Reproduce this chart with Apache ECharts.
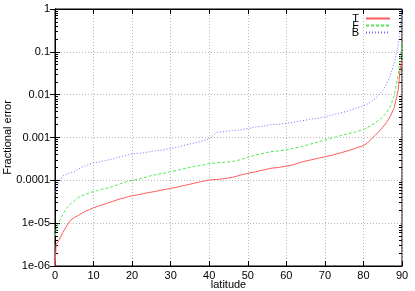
<!DOCTYPE html>
<html><head><meta charset="utf-8">
<script src="https://cdn.jsdelivr.net/npm/echarts@6/dist/echarts.min.js"></script>
<style>html,body{margin:0;padding:0;background:#fff}#c{width:415px;height:291px}</style>
</head><body><div id="c"></div>
<script>
var latitudes = [0,0.3,1,2,3,4,5,6,7,8,9,10,11,12,13,14,15,16,17,18,19,20,22,24,26,28,30,32,34,36,38,40,42,44,46,48,50,52,54,56,58,60,62,64,66,68,70,72,74,76,78,80,81,82,83,84,85,86,87,88,89,89.5,90];
var seriesT = [1e-6,3.2e-6,4.0e-6,6.0e-6,8.5e-6,1.17e-5,1.35e-5,1.51e-5,1.70e-5,1.91e-5,2.09e-5,2.29e-5,2.45e-5,2.63e-5,2.82e-5,3.02e-5,3.24e-5,3.47e-5,3.72e-5,3.89e-5,4.17e-5,4.37e-5,4.68e-5,5.13e-5,5.50e-5,6.03e-5,6.46e-5,7.08e-5,7.76e-5,8.51e-5,9.33e-5,1.02e-4,1.05e-4,1.10e-4,1.17e-4,1.32e-4,1.45e-4,1.58e-4,1.74e-4,1.91e-4,2.0e-4,2.14e-4,2.34e-4,2.69e-4,2.95e-4,3.24e-4,3.55e-4,3.89e-4,4.37e-4,4.90e-4,5.62e-4,6.46e-4,7.41e-4,9.12e-4,1.12e-3,1.38e-3,1.74e-3,2.24e-3,3.16e-3,5.01e-3,1.26e-2,3.8e-2,6.3e-2];
var seriesF = [5.0e-6,7.1e-6,1.05e-5,1.58e-5,2.24e-5,2.82e-5,3.31e-5,3.98e-5,4.37e-5,4.79e-5,5.13e-5,5.50e-5,5.75e-5,6.17e-5,6.46e-5,6.76e-5,7.24e-5,7.76e-5,8.32e-5,8.91e-5,9.55e-5,1.0e-4,1.07e-4,1.23e-4,1.35e-4,1.45e-4,1.58e-4,1.74e-4,1.91e-4,2.09e-4,2.24e-4,2.45e-4,2.57e-4,2.63e-4,2.75e-4,3.02e-4,3.47e-4,3.89e-4,4.27e-4,4.68e-4,4.90e-4,5.13e-4,5.62e-4,6.17e-4,6.92e-4,7.76e-4,8.71e-4,9.77e-4,1.10e-3,1.23e-3,1.35e-3,1.55e-3,1.70e-3,1.91e-3,2.19e-3,2.51e-3,3.02e-3,3.80e-3,5.37e-3,9.55e-3,2.82e-2,6.3e-2,0.16];
var seriesB = [4.5e-5,6.3e-5,8.9e-5,1.26e-4,1.38e-4,1.51e-4,1.58e-4,1.82e-4,2.04e-4,2.19e-4,2.40e-4,2.57e-4,2.63e-4,2.75e-4,2.88e-4,3.02e-4,3.16e-4,3.39e-4,3.55e-4,3.80e-4,3.98e-4,4.17e-4,4.27e-4,4.57e-4,4.90e-4,5.13e-4,5.50e-4,6.03e-4,6.76e-4,7.41e-4,8.13e-4,9.33e-4,1.32e-3,1.38e-3,1.45e-3,1.51e-3,1.62e-3,1.74e-3,1.86e-3,2.0e-3,2.04e-3,2.14e-3,2.29e-3,2.45e-3,2.63e-3,2.82e-3,3.02e-3,3.39e-3,3.72e-3,4.17e-3,4.79e-3,5.50e-3,6.03e-3,6.92e-3,8.13e-3,9.77e-3,1.26e-2,1.78e-2,2.82e-2,5.62e-2,0.141,0.32,1.0];
var seriesNames = ['T','F','B'];
var yTickLabels = ['1e-06','1e-05','0.0001','0.001','0.01','0.1','1'];

function pairs(vals){ return latitudes.map(function(x,i){ return [x, vals[i]]; }); }
function fmtY(v){
  var idx = Math.round(Math.log10(v)) + 6;
  return yTickLabels[idx] !== undefined ? yTickLabels[idx] : '';
}
// minor tick positions (2..9 within each decade)
var minorTicks = [];
for (var d = -6; d < 0; d++) { for (var m = 2; m <= 9; m++) { minorTicks.push(m * Math.pow(10, d)); } }

var font = 'Liberation Sans, Arial, sans-serif';
var chart = echarts.init(document.getElementById('c'), null, {renderer:'canvas'});
var split = {show:true, lineStyle:{color:'#b8b8b8', type:[1,2], width:1}};
function minorAxis(pos){
  return {
    type:'log', logBase:10, min:1e-6, max:1, position:pos,
    axisLine:{show:false},
    axisTick:{show:true, inside:true, length:3, customValues:minorTicks, lineStyle:{color:'#000'}},
    axisLabel:{show:false}, splitLine:{show:false}
  };
}
chart.setOption({
  animation:false,
  textStyle:{fontFamily:font},
  grid:{left:55, right:13, top:9, bottom:25, show:true, borderColor:'#000', borderWidth:1, outerBoundsMode:'none', containLabel:false},
  legend:{
    orient:'vertical', right:19, top:8, align:'right', itemGap:-4,
    itemWidth:24, itemHeight:8,
    itemStyle:{opacity:0},
    textStyle:{fontSize:11, lineHeight:8, color:'#000', fontFamily:font, padding:[0,2,0,0]},
    data:seriesNames
  },
  xAxis:[{
    type:'value', min:0, max:90, interval:10, position:'bottom',
    name:'latitude', nameLocation:'middle', nameGap:13, nameMoveOverlap:false,
    nameTextStyle:{fontSize:11, color:'#000'},
    axisLine:{show:true, lineStyle:{color:'#000'}},
    axisTick:{show:true, inside:true, length:5, lineStyle:{color:'#000'}},
    axisLabel:{fontSize:11, color:'#000', margin:4},
    splitLine:split
  },{
    type:'value', min:0, max:90, interval:10, position:'top',
    axisLine:{show:true, lineStyle:{color:'#000'}},
    axisTick:{show:true, inside:true, length:5, lineStyle:{color:'#000'}},
    axisLabel:{show:false}, splitLine:{show:false}
  }],
  yAxis:[{
    type:'log', logBase:10, min:1e-6, max:1, position:'left',
    name:'Fractional error', nameLocation:'middle', nameGap:42, nameMoveOverlap:false,
    nameTextStyle:{fontSize:11, color:'#000'},
    axisLine:{show:true, lineStyle:{color:'#000'}},
    axisTick:{show:true, inside:true, length:5, lineStyle:{color:'#000'}},
    axisLabel:{fontSize:11, color:'#000', margin:5, formatter:fmtY},
    splitLine:split
  },{
    type:'log', logBase:10, min:1e-6, max:1, position:'right',
    axisLine:{show:true, lineStyle:{color:'#000'}},
    axisTick:{show:true, inside:true, length:5, lineStyle:{color:'#000'}},
    axisLabel:{show:false}, splitLine:{show:false}
  }, minorAxis('left'), minorAxis('right')],
  series:[
    {name:'T', type:'line', symbol:'none', data:pairs(seriesT), lineStyle:{color:'#ff5c5c', width:1, type:'solid'}, itemStyle:{color:'#ff5c5c'}},
    {name:'F', type:'line', symbol:'none', data:pairs(seriesF), lineStyle:{color:'#50e850', width:1, type:[3,2]}, itemStyle:{color:'#50e850'}},
    {name:'B', type:'line', symbol:'none', data:pairs(seriesB), lineStyle:{color:'#6e6eff', width:1, type:[1,2]}, itemStyle:{color:'#6e6eff'}}
  ]
});
</script></body></html>
